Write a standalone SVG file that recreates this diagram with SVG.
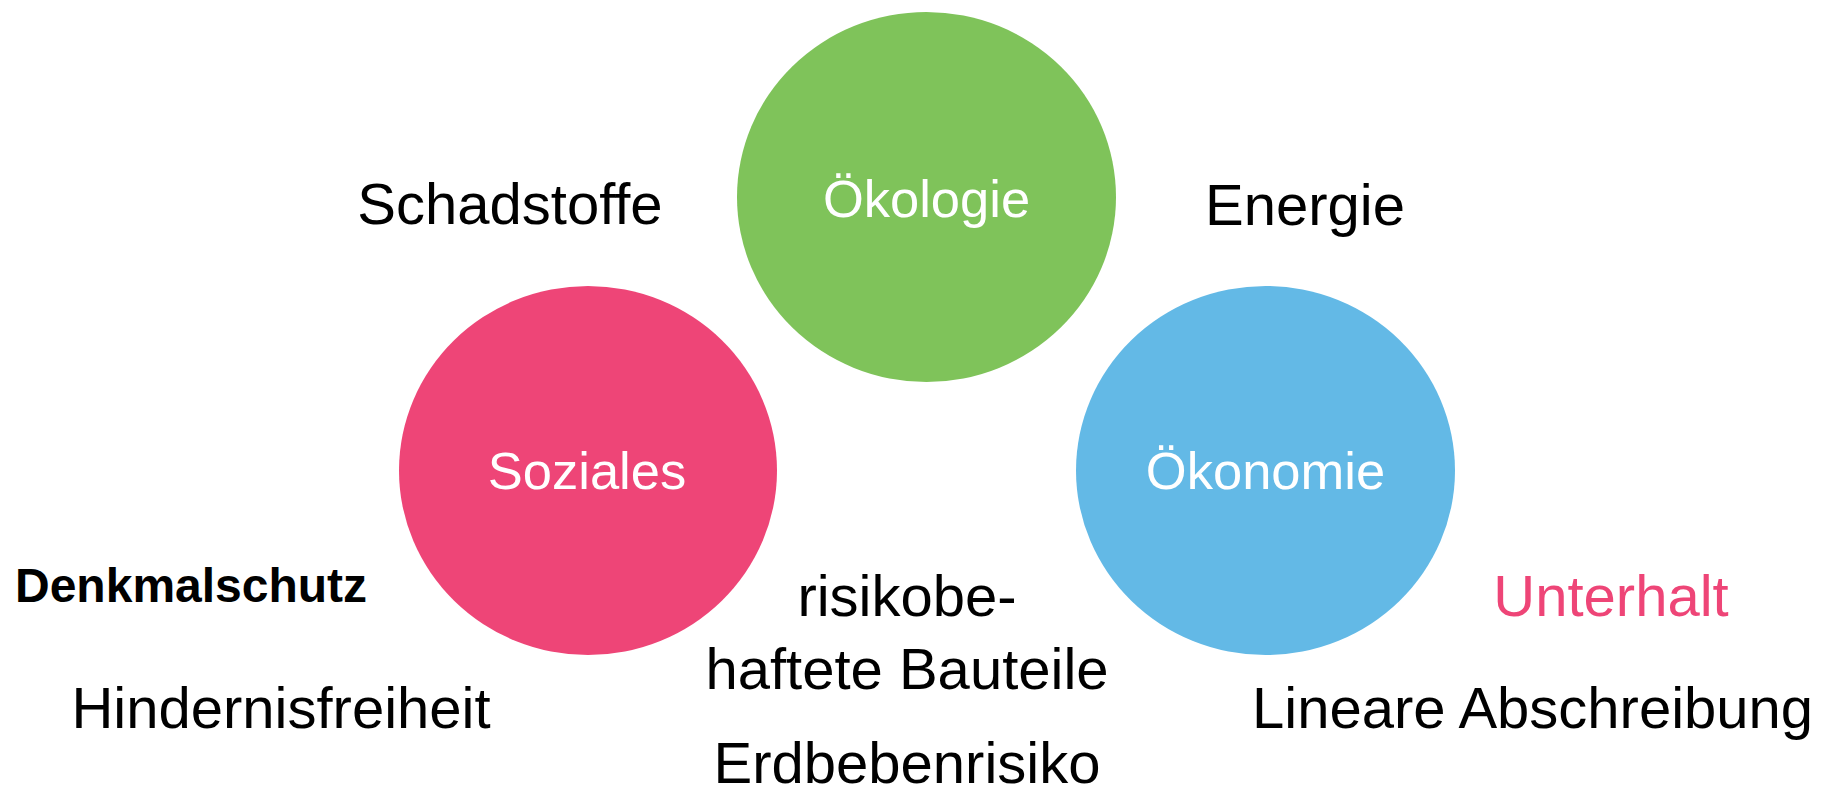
<svg xmlns="http://www.w3.org/2000/svg" width="1822" height="789" viewBox="0 0 1822 789">
<style>
.lbl{font-family:"Liberation Sans",Arial,sans-serif;font-size:52.5px;fill:#ffffff;text-anchor:middle}
.t{font-family:"Liberation Sans",Arial,sans-serif;font-size:58px;fill:#000000}
.m{text-anchor:middle}
</style>
<rect width="1822" height="789" fill="#ffffff"/>
<g id="oekologie">
<ellipse cx="926.5" cy="197" rx="189.5" ry="185" fill="#7FC35A"/>
<text class="lbl" x="926.5" y="217">Ökologie</text>
</g>
<g id="soziales">
<ellipse cx="588" cy="470.5" rx="189" ry="184.5" fill="#EE4577"/>
<text class="lbl" x="587" y="489">Soziales</text>
</g>
<g id="oekonomie">
<ellipse cx="1265.5" cy="470.5" rx="189.5" ry="184.5" fill="#63B9E6"/>
<text class="lbl" x="1265.5" y="489">Ökonomie</text>
</g>
<g id="connectors"></g>
<g id="labels">
<text class="t m" x="510" y="224">Schadstoffe</text>
<text class="t m" x="1305" y="225">Energie</text>
<text x="15" y="602" style="font-family:'Liberation Sans',Arial,sans-serif;font-size:48px;font-weight:bold;fill:#000">Denkmalschutz</text>
<text class="t m" x="281" y="728">Hindernisfreiheit</text>
<text class="t m" x="907" y="616">risikobe-</text>
<text class="t m" x="907" y="689">haftete Bauteile</text>
<text class="t m" x="907" y="783">Erdbebenrisiko</text>
<text class="t m" x="1611" y="616" style="fill:#EE4577">Unterhalt</text>
<text class="t" x="1252" y="728">Lineare Abschreibung</text>
</g>
</svg>
